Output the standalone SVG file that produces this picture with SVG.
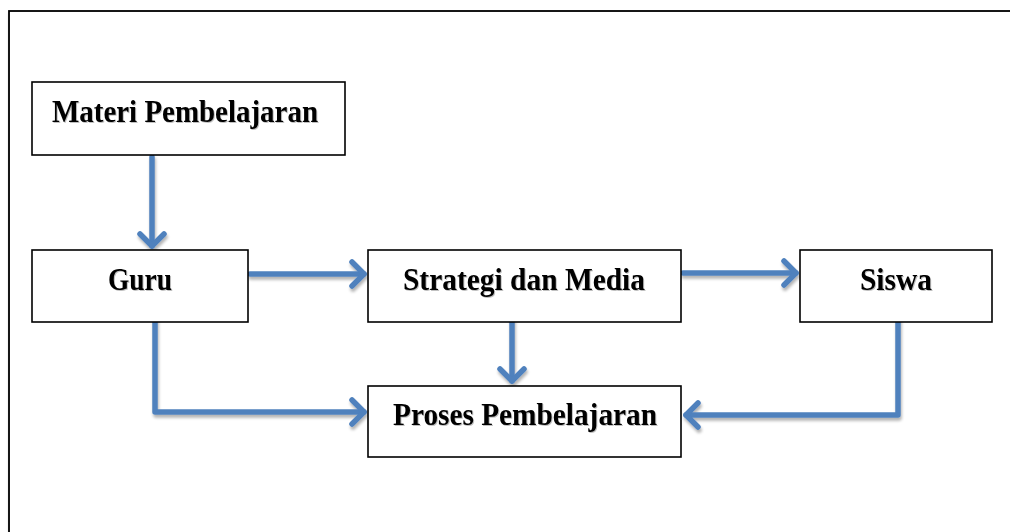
<svg xmlns="http://www.w3.org/2000/svg" width="1010" height="532" viewBox="0 0 1010 532">
  <defs>
    <style>
      .box { fill: #ffffff; stroke: #000000; stroke-width: 1.6; }
      .lbl { font-family: "Liberation Serif", "Times New Roman", serif; font-weight: bold; font-size: 31px; fill: #000000; text-anchor: middle; }
      .conn { fill: none; stroke: #4F81BD; stroke-width: 5.5; stroke-linecap: round; stroke-linejoin: round; }
    </style>
    <marker id="arr" markerUnits="userSpaceOnUse" markerWidth="34" markerHeight="34" viewBox="-17 -17 34 34" refX="0" refY="0" orient="auto" overflow="visible">
      <path d="M -12 -12 L 0 0 L -12 12" fill="none" stroke="#4F81BD" stroke-width="5.5" stroke-linecap="round" stroke-linejoin="round"/>
    </marker>
    <filter id="sh" x="-10%" y="-10%" width="130%" height="140%">
      <feGaussianBlur in="SourceAlpha" stdDeviation="1.5"/>
      <feOffset dx="1" dy="2.5" result="b"/>
      <feComponentTransfer><feFuncA type="linear" slope="0.3"/></feComponentTransfer>
      <feMerge><feMergeNode/><feMergeNode in="SourceGraphic"/></feMerge>
    </filter>
    <filter id="tsh" x="-5%" y="-20%" width="110%" height="150%">
      <feGaussianBlur in="SourceAlpha" stdDeviation="0.6"/>
      <feOffset dx="0.8" dy="1" result="b"/>
      <feComponentTransfer><feFuncA type="linear" slope="0.25"/></feComponentTransfer>
      <feMerge><feMergeNode/><feMergeNode in="SourceGraphic"/></feMerge>
    </filter>
  </defs>

  <rect x="9" y="11" width="1010" height="530" fill="#ffffff" stroke="#000000" stroke-width="1.8" filter="url(#sh)"/>

  <g id="connectors" filter="url(#sh)">
    <path class="conn" d="M 152 157 L 152 246" marker-end="url(#arr)"/>
    <path class="conn" d="M 250 274 L 364 274" marker-end="url(#arr)"/>
    <path class="conn" d="M 683 273 L 796 273" marker-end="url(#arr)"/>
    <path class="conn" d="M 512 315 L 512 381" marker-end="url(#arr)"/>
    <path class="conn" d="M 155 316 L 155 412 L 364 412" marker-end="url(#arr)"/>
    <path class="conn" d="M 898 319 L 898 415 L 686 415" marker-end="url(#arr)"/>
  </g>

  <g id="node-materi">
    <rect class="box" x="32" y="82" width="313" height="73"/>
    <text class="lbl" x="185" y="122" textLength="266" lengthAdjust="spacingAndGlyphs" filter="url(#tsh)">Materi Pembelajaran</text>
  </g>
  <g id="node-guru">
    <rect class="box" x="32" y="250" width="216" height="72"/>
    <text class="lbl" x="140" y="290" textLength="64" lengthAdjust="spacingAndGlyphs" filter="url(#tsh)">Guru</text>
  </g>
  <g id="node-strategi">
    <rect class="box" x="368" y="250" width="313" height="72"/>
    <text class="lbl" x="524" y="290" textLength="242" lengthAdjust="spacingAndGlyphs" filter="url(#tsh)">Strategi dan Media</text>
  </g>
  <g id="node-siswa">
    <rect class="box" x="800" y="250" width="192" height="72"/>
    <text class="lbl" x="896" y="290" textLength="72" lengthAdjust="spacingAndGlyphs" filter="url(#tsh)">Siswa</text>
  </g>
  <g id="node-proses">
    <rect class="box" x="368" y="386" width="313" height="71"/>
    <text class="lbl" x="525" y="425" textLength="264" lengthAdjust="spacingAndGlyphs" filter="url(#tsh)">Proses Pembelajaran</text>
  </g>
</svg>
